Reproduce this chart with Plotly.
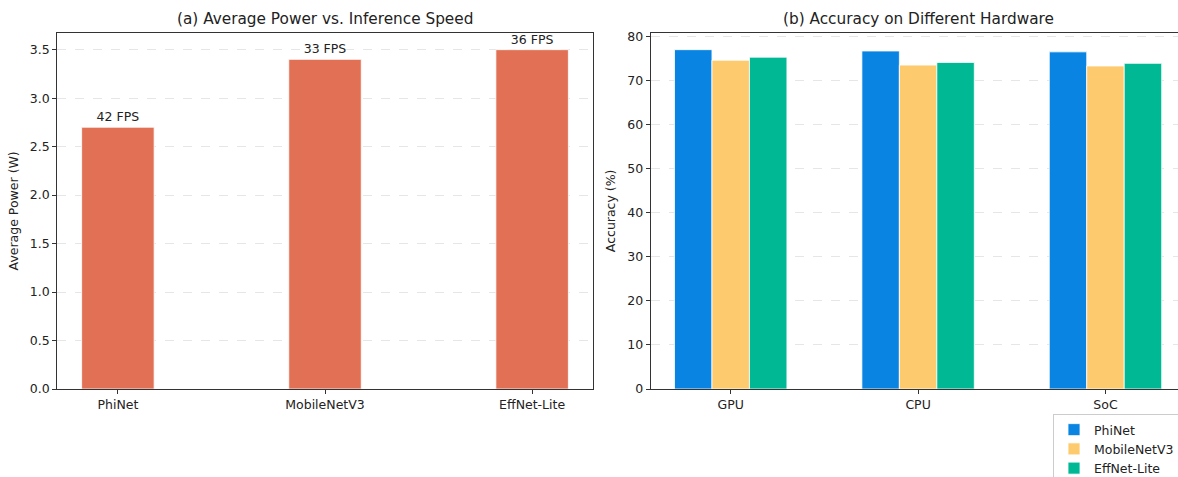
import plotly.graph_objects as go

models = ["PhiNet", "MobileNetV3", "EffNet-Lite"]
power_w = [2.7, 3.4, 3.5]
fps = [42, 33, 36]
fps_labels = [f"{v} FPS" for v in fps]

hardware = ["GPU", "CPU", "SoC"]
acc_phinet = [77.0, 76.7, 76.5]
acc_mobilenet = [74.6, 73.5, 73.3]
acc_effnet = [75.3, 74.1, 73.9]

series = [("PhiNet", acc_phinet, "#0984E3"),
          ("MobileNetV3", acc_mobilenet, "#FDCB6E"),
          ("EffNet-Lite", acc_effnet, "#00B894")]

W, H = 1178, 477
FONT = "DejaVu Sans"
AX = "#333333"

fig = go.Figure()

fig.add_trace(go.Bar(x=models, y=power_w, width=0.35, marker=dict(color="#E17055", line=dict(color="white", width=0.8)),
                     showlegend=False, xaxis="x", yaxis="y",
                     text=fps_labels, textposition="outside", cliponaxis=False,
                     textfont=dict(family=FONT, size=12.5, color="#222")))

offsets = [-0.3, -0.1, 0.1]
for (name, vals, col), off in zip(series, offsets):
    fig.add_trace(go.Bar(x=hardware, y=vals, width=0.2, offset=off, name=name,
                         marker=dict(color=col, line=dict(color="white", width=0.8)),
                         xaxis="x2", yaxis="y2"))

def px_x(p):
    return p / W

def px_y(p):
    return 1 - p / H

ydom = [px_y(389), px_y(32.7)]
common_axis = dict(showline=True, linecolor=AX, linewidth=1.2, ticks="outside", ticklen=4,
                   tickcolor=AX, tickfont=dict(family=FONT, size=12.5, color="#222"),
                   zeroline=False)

fig.update_layout(
    width=W, height=H, margin=dict(l=0, r=0, t=0, b=0, autoexpand=False),
    paper_bgcolor="white", plot_bgcolor="white",
    barmode="overlay",
    font=dict(family=FONT, size=12.5, color="#222"),
    xaxis=dict(domain=[px_x(57.3), px_x(592.7)], range=[-0.2925, 2.2925], mirror=True,
               showgrid=False, anchor="y", automargin=False, **common_axis),
    yaxis=dict(domain=ydom, range=[0, 3.675], dtick=0.5, tickformat=".1f", mirror=True,
               showgrid=True, gridcolor="#e6e6e6", griddash="dash", gridwidth=1, anchor="x",
               automargin=False,
               title=dict(text="Average Power (W)", font=dict(family=FONT, size=12.5), standoff=8),
               **common_axis),
    xaxis2=dict(domain=[px_x(650.7), 1.0], range=[-0.427, 2.387], mirror=True,
                showgrid=False, anchor="y2", automargin=False, **common_axis),
    yaxis2=dict(domain=ydom, range=[0, 80.85], dtick=10, mirror=False,
                showgrid=True, gridcolor="#e6e6e6", griddash="dash", gridwidth=1, anchor="x2",
                automargin=False,
                title=dict(text="Accuracy (%)", font=dict(family=FONT, size=12.5), standoff=8),
                **common_axis),
    legend=dict(x=px_x(1053), y=px_y(414), xanchor="left", yanchor="top",
                bgcolor="white", bordercolor="#cccccc", borderwidth=1,
                font=dict(family=FONT, size=12.5, color="#222"), tracegroupgap=0),
    annotations=[
        dict(text="(a) Average Power vs. Inference Speed", x=px_x(325), y=px_y(19),
             xref="paper", yref="paper", showarrow=False, xanchor="center", yanchor="middle",
             font=dict(family=FONT, size=15.3, color="#222")),
        dict(text="(b) Accuracy on Different Hardware", x=px_x(918), y=px_y(19),
             xref="paper", yref="paper", showarrow=False, xanchor="center", yanchor="middle",
             font=dict(family=FONT, size=15.3, color="#222")),
    ],
)

fig.write_html("out.html", config={"displayModeBar": False},
               post_script="document.body.style.margin='0';document.body.style.overflow='hidden';")
